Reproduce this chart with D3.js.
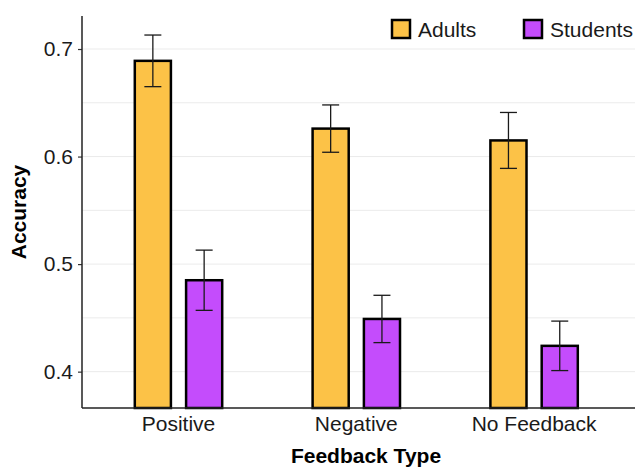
<!DOCTYPE html>
<html>
<head>
<meta charset="utf-8">
<script src="https://cdn.jsdelivr.net/npm/d3@7"></script>
<style>
  body { margin: 0; background: #fff; }
  svg text { font-family: "Liberation Sans", Arial, sans-serif; }
</style>
</head>
<body>
<div id="chart"></div>
<script>
(function () {
  'use strict';

  // ── Data ───────────────────────────────────────────────
  var categories = ['Positive', 'Negative', 'No Feedback'];
  var groups = ['Adults', 'Students'];
  var adultsMean = [0.689, 0.626, 0.615];
  var adultsErr = [0.024, 0.022, 0.026];
  var studentsMean = [0.485, 0.449, 0.424];
  var studentsErr = [0.028, 0.022, 0.023];
  var yTicks = [0.4, 0.5, 0.6, 0.7];
  var yMinor = [0.45, 0.55, 0.65];
  var colors = { Adults: '#fcc247', Students: '#c44cfc' };

  var rows = [];
  categories.forEach(function (c, i) {
    rows.push({ cat: c, group: 'Adults', mean: adultsMean[i], err: adultsErr[i] });
    rows.push({ cat: c, group: 'Students', mean: studentsMean[i], err: studentsErr[i] });
  });

  var W = 635, H = 467;
  var left = 82, right = 635, top = 16, bottom = 408;
  var fs = 21;
  var dodge = 87.4;

  var svg = d3.select('#chart').append('svg')
    .attr('width', W).attr('height', H);

  var y = d3.scaleLinear().domain([0.3662, 0.7307]).range([bottom, top]);
  var x = d3.scaleBand().domain(categories).range([89.6, 623]).paddingInner(0);
  var xg = d3.scaleBand().domain(groups).range([0, dodge]).paddingInner(0.296);

  // ── Grid ───────────────────────────────────────────────
  svg.append('g').selectAll('line')
    .data(yMinor.concat(yTicks))
    .enter().append('line')
    .attr('x1', left).attr('x2', right)
    .attr('y1', function (d) { return y(d); })
    .attr('y2', function (d) { return y(d); })
    .attr('stroke', '#ebebeb').attr('stroke-width', 1);

  // ── Bars ───────────────────────────────────────────────
  var off = function (d) { return x(d.cat) + x.bandwidth() / 2 - dodge / 2 + xg(d.group); };

  svg.append('g').selectAll('rect')
    .data(rows)
    .enter().append('rect')
    .attr('x', function (d) { return off(d); })
    .attr('width', xg.bandwidth())
    .attr('y', function (d) { return y(d.mean); })
    .attr('height', function (d) { return bottom - y(d.mean); })
    .attr('fill', function (d) { return colors[d.group]; })
    .attr('stroke', '#000').attr('stroke-width', 2.5);

  // ── Error bars ─────────────────────────────────────────
  var eb = svg.append('g').attr('stroke', '#1a1a1a').attr('stroke-width', 1.3);
  rows.forEach(function (d) {
    var cx = off(d) + xg.bandwidth() / 2;
    eb.append('line').attr('x1', cx).attr('x2', cx)
      .attr('y1', y(d.mean + d.err)).attr('y2', y(d.mean - d.err));
    [d.mean + d.err, d.mean - d.err].forEach(function (v) {
      eb.append('line').attr('x1', cx - 8.5).attr('x2', cx + 8.5)
        .attr('y1', y(v)).attr('y2', y(v));
    });
  });

  // ── Axes ───────────────────────────────────────────────
  var yAxis = svg.append('g')
    .attr('transform', 'translate(' + left + ',0)')
    .call(d3.axisLeft(y).tickValues(yTicks).tickSize(4).tickPadding(5)
      .tickFormat(d3.format('.1f')));
  yAxis.select('.domain').remove();
  yAxis.selectAll('line').attr('stroke', '#333').attr('stroke-width', 1.2);
  yAxis.selectAll('text').attr('font-size', fs).attr('fill', '#1a1a1a')
    .style('font-family', '"Liberation Sans", Arial, sans-serif');

  svg.append('line').attr('x1', left).attr('x2', left).attr('y1', top).attr('y2', bottom)
    .attr('stroke', '#222').attr('stroke-width', 1.5);
  svg.append('line').attr('x1', left).attr('x2', right).attr('y1', bottom).attr('y2', bottom)
    .attr('stroke', '#222').attr('stroke-width', 1.5);

  svg.append('g').selectAll('text')
    .data(categories)
    .enter().append('text')
    .attr('x', function (d) { return x(d) + x.bandwidth() / 2; })
    .attr('y', 431)
    .attr('text-anchor', 'middle')
    .attr('font-size', fs).attr('fill', '#1a1a1a')
    .text(function (d) { return d; });

  svg.append('text')
    .attr('x', 366).attr('y', 463)
    .attr('text-anchor', 'middle')
    .attr('font-size', fs).attr('font-weight', 'bold')
    .text('Feedback Type');

  svg.append('text')
    .attr('transform', 'translate(26,' + ((top + bottom) / 2) + ') rotate(-90)')
    .attr('text-anchor', 'middle')
    .attr('font-size', fs).attr('font-weight', 'bold')
    .text('Accuracy');

  // ── Legend ─────────────────────────────────────────────
  var legendX = [392, 524];
  var lg = svg.append('g').selectAll('g')
    .data(groups)
    .enter().append('g')
    .attr('transform', function (d, i) { return 'translate(' + legendX[i] + ',20)'; });
  lg.append('rect')
    .attr('width', 18).attr('height', 18)
    .attr('fill', function (d) { return colors[d]; })
    .attr('stroke', '#000').attr('stroke-width', 2.5);
  lg.append('text')
    .attr('x', 26).attr('y', 16.5)
    .attr('font-size', fs).attr('fill', '#1a1a1a')
    .text(function (d) { return d; });
})();
</script>
</body>
</html>
